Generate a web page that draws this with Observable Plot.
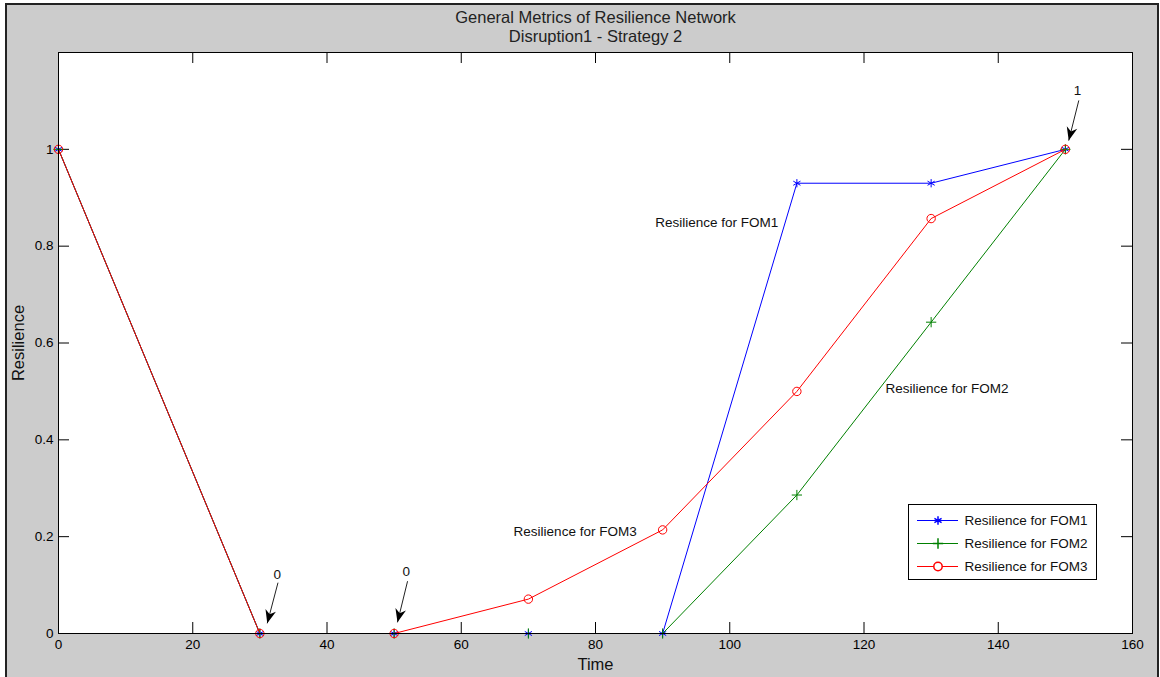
<!DOCTYPE html>
<html>
<head>
<meta charset="utf-8">
<script src="https://cdn.jsdelivr.net/npm/d3@7"></script>
<script src="https://cdn.jsdelivr.net/npm/@observablehq/plot@0.6"></script>
<style>
  html, body { margin: 0; padding: 0; background: #ffffff; }
  #wrap { position: relative; width: 1160px; height: 677px; overflow: hidden; font-family: "Liberation Sans", Arial, sans-serif; }
  #wrap svg { display: block; }
  #border { position: absolute; left: 5px; top: 3px; width: 1154px; height: 700px; box-sizing: border-box;
            border: 2px solid #222; box-shadow: 0 0 0 8px #ffffff; pointer-events: none; }
  #legend { position: absolute; left: 908px; top: 504px; width: 189px; height: 76px; box-sizing: border-box;
            border: 1px solid #000; background: #fff; }
</style>
</head>
<body>
<div id="wrap">
  <div id="chart"></div>
  <div id="legend"></div>
  <div id="border"></div>
</div>
<script>
// ---- data ----
const titleLines = ["General Metrics of Resilience Network", "Disruption1 - Strategy 2"];
const xLabel = "Time";
const yLabel = "Resilience";
const times = [0, 30, 50, 70, 90, 110, 130, 150];
const seriesNames = ["Resilience for FOM1", "Resilience for FOM2", "Resilience for FOM3"];
const fom1 = [1, 0, 0, 0, 0, 0.93, 0.93, 1];
const fom2 = [1, 0, 0, 0, 0, 0.286, 0.643, 1];
const fom3 = [1, 0, 0, 0.071, 0.214, 0.5, 0.857, 1];
const seriesColors = ["#0000ff", "#008000", "#ff0000"];
const xTicks = [0, 20, 40, 60, 80, 100, 120, 140, 160];
const yTicks = [0, 0.2, 0.4, 0.6, 0.8, 1];
// in-plot text labels (data coordinates, left-anchored)
const labelX = [88.9, 123.2, 67.8];
const labelY = [0.849, 0.506, 0.211];
// arrow annotations: text position, arrow tail, arrow tip (data coordinates)
const annotLabels = ["0", "0", "1"];
const annotTextX = [32.6, 51.8, 151.8];
const annotTextY = [0.122, 0.127, 1.121];
const arrowX1 = [32.7, 52.0, 152.0];
const arrowY1 = [0.105, 0.108, 1.101];
const arrowX2 = [31.1, 50.5, 150.5];
const arrowY2 = [0.021, 0.023, 1.018];

// ---- layout ----
const W = 1160, H = 677, mL = 58, mR = 28, mT = 52, mB = 44;
const pw = W - mL - mR, ph = H - mT - mB;
const xDomain = [0, 160], yDomain = [0, 1.2];
const font = "Liberation Sans, Arial, sans-serif";

const seriesValues = [fom1, fom2, fom3];
const seriesSymbols = ["asterisk", "plus", "circle"];
const seriesR = [3.9, 3.4, 4.2];
const rows = seriesNames.flatMap((s, i) => times.map((t, j) => ({series: s, x: t, y: seriesValues[i][j]})));

const sx = Plot.scale({x: {domain: xDomain, range: [mL, W - mR]}});
const sy = Plot.scale({y: {domain: yDomain, range: [H - mB, mT]}});
const annots = annotLabels.map((l, i) => {
  const dx = sx.apply(arrowX2[i]) - sx.apply(arrowX1[i]);
  const dy = sy.apply(arrowY2[i]) - sy.apply(arrowY1[i]);
  return {label: l, tx: annotTextX[i], ty: annotTextY[i], x1: arrowX1[i], y1: arrowY1[i], x2: arrowX2[i], y2: arrowY2[i],
          rot: Math.atan2(-dx, dy) * 180 / Math.PI};
});
const arrowHead = {
  draw(ctx, size) {
    const s = Math.sqrt(size / Math.PI);
    const L = s * 2.5, w = s * 1.0;
    ctx.moveTo(0, 0);
    ctx.lineTo(w, -L);
    ctx.lineTo(0, -0.7 * L);
    ctx.lineTo(-w, -L);
    ctx.closePath();
  }
};
const labels = seriesNames.map((s, i) => ({text: s, x: labelX[i], y: labelY[i]}));

const seriesMarks = seriesNames.flatMap((s, i) => {
  const d = rows.filter(r => r.series === s);
  return [
    Plot.line(d, {x: "x", y: "y", stroke: seriesColors[i], strokeWidth: 1}),
    Plot.dot(d, {x: "x", y: "y", symbol: seriesSymbols[i], stroke: seriesColors[i], fill: "none", r: seriesR[i], strokeWidth: 1})
  ];
});

const chart = Plot.plot({
  width: W, height: H,
  marginLeft: mL, marginRight: mR, marginTop: mT, marginBottom: mB,
  x: {domain: xDomain},
  y: {domain: yDomain},
  style: {background: "#cccccc", fontFamily: font, color: "#000", overflow: "visible"},
  marks: [
    Plot.frame({fill: "#ffffff", stroke: null}),
    // inward ticks (MATLAB style)
    Plot.ruleX(xTicks, {x: d => d, insetTop: ph - 11, stroke: "#000"}),
    Plot.ruleX(xTicks, {x: d => d, insetBottom: ph - 11, stroke: "#000"}),
    Plot.ruleY(yTicks, {y: d => d, insetRight: pw - 11, stroke: "#000"}),
    Plot.ruleY(yTicks, {y: d => d, insetLeft: pw - 11, stroke: "#000"}),
    Plot.axisX(xTicks, {tickSize: 0, tickPadding: 6, fontSize: 13.5, label: null, tickFormat: d => String(d)}),
    Plot.axisY(yTicks, {tickSize: 0, tickPadding: 5, fontSize: 13.5, label: null, tickFormat: d => String(d)}),
    Plot.text([xLabel], {frameAnchor: "bottom", dy: 31, lineAnchor: "middle", textAnchor: "middle", fontSize: 16.5, fill: "#111"}),
    Plot.text([yLabel], {frameAnchor: "left", dx: -40, rotate: -90, lineAnchor: "middle", textAnchor: "middle", fontSize: 16.5, fill: "#111"}),
    Plot.text([titleLines[0]], {frameAnchor: "top", dy: -35, lineAnchor: "middle", fontSize: 16.5, fill: "#222"}),
    Plot.text([titleLines[1]], {frameAnchor: "top", dy: -16, lineAnchor: "middle", fontSize: 16.5, fill: "#222"}),
    ...seriesMarks,
    Plot.text(labels, {x: "x", y: "y", text: "text", textAnchor: "start", fontSize: 13.5, fill: "#111"}),
    Plot.link(annots, {x1: "x1", y1: "y1", x2: "x2", y2: "y2", stroke: "#222", strokeWidth: 1}),
    Plot.dot(annots, {x: "x2", y: "y2", rotate: "rot", symbol: arrowHead, r: 5.4, fill: "#000", stroke: "none"}),
    Plot.text(annots, {x: "tx", y: "ty", text: "label", fontSize: 13.5, fill: "#111"}),
    Plot.frame({stroke: "#000", strokeWidth: 1})
  ]
});
document.getElementById("chart").appendChild(chart);

// ---- legend (drawn with Plot) ----
const legend = Plot.plot({
  width: 187, height: 74,
  marginLeft: 0, marginRight: 0, marginTop: 0, marginBottom: 0,
  y: {type: "point", domain: seriesNames, range: [14, 61], padding: 0, axis: null},
  x: {axis: null},
  style: {background: "#ffffff", fontFamily: font, overflow: "visible"},
  marks: seriesNames.flatMap((s, i) => [
    Plot.ruleY([s], {y: d => d, insetLeft: 8, insetRight: 138, stroke: seriesColors[i], strokeWidth: 1}),
    Plot.dot([s], {y: d => d, frameAnchor: "left", dx: 28.5, symbol: seriesSymbols[i], stroke: seriesColors[i], fill: i === 2 ? "#fff" : "none", r: seriesR[i]}),
    Plot.text([s], {y: d => d, text: d => d, frameAnchor: "left", dx: 55, textAnchor: "start", lineAnchor: "middle", fontSize: 13.5, fill: "#111"})
  ])
});
document.getElementById("legend").appendChild(legend);
</script>
</body>
</html>
